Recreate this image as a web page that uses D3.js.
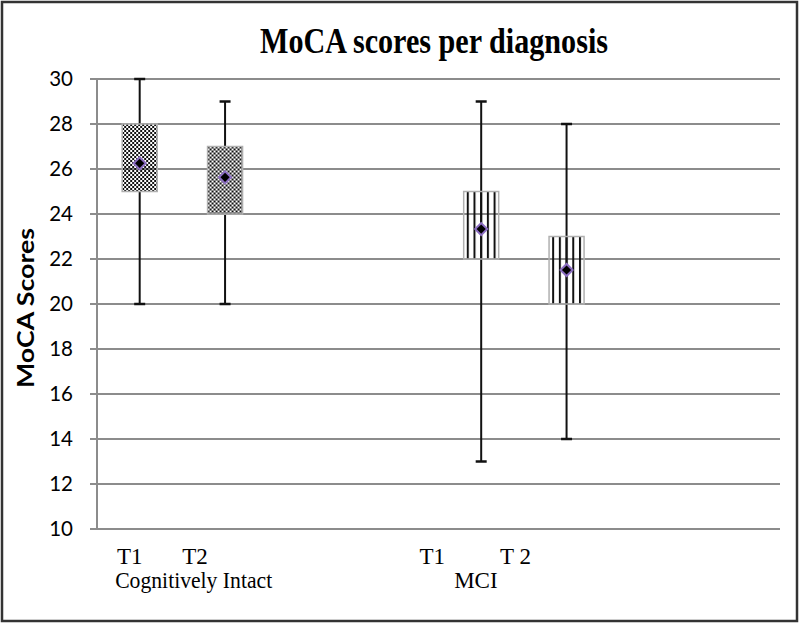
<!DOCTYPE html>
<html><head><meta charset="utf-8">
<script src="https://cdn.jsdelivr.net/npm/d3@7"></script>
<style>body{margin:0;background:#fff}svg{display:block}</style>
</head><body>
<script>
// ---- data ----
const slots = ["CI_T1","CI_T2","g1","g2","MCI_T1","MCI_T2","g3","g4"];
const boxCats = ["CI_T1","CI_T2","MCI_T1","MCI_T2"];
const groups = ["CI","CI","MCI","MCI"];
const whiskerLow  = [20, 20, 13, 14];
const boxLow      = [25, 24, 22, 20];
const boxHigh     = [28, 27, 25, 23];
const whiskerHigh = [30, 29, 29, 28];
const means       = [26.25, 25.63, 23.33, 21.51];
const yTicks = [10,12,14,16,18,20,22,24,26,28,30];
const timeLabels = ["T1","T2","T1","T 2"];
const groupLabels = ["Cognitively Intact","MCI"];
const title = "MoCA scores per diagnosis";
const yTitle = "MoCA Scores";

const W=800,H=624;
const svg=d3.select("body").append("svg").attr("width",W).attr("height",H);
const defs=svg.append("defs");

svg.append("rect").attr("x",2).attr("y",2).attr("width",795).attr("height",619)
  .attr("fill","#fff").attr("stroke","#333").attr("stroke-width",2.5);

const m={l:97,r:780,t:79,b:529};
const x=d3.scaleBand().domain(slots).range([m.l,m.r]).paddingInner(0.59).paddingOuter(0.295);
const y=d3.scaleLinear().domain([10,30]).range([m.b,m.t]);
const bw=x.bandwidth();

// patterns, aligned to each box
boxCats.forEach((c,i)=>{
  const p=defs.append("pattern").attr("id","pat"+i).attr("patternUnits","userSpaceOnUse")
    .attr("x",x(c)).attr("y",y(boxHigh[i]));
  if(groups[i]==="CI"){
    p.attr("width",4).attr("height",4);
    p.append("rect").attr("width",2).attr("height",2).attr("fill","#111");
    p.append("rect").attr("x",2).attr("y",2).attr("width",2).attr("height",2).attr("fill","#111");
  } else {
    p.attr("width",6.7).attr("height",10).attr("x",x(c)+bw/2-1-6.7*3);
    p.append("rect").attr("x",0).attr("width",2).attr("height",10).attr("fill","#111");
  }
});

// gridlines
svg.append("g").selectAll("line").data(yTicks).join("line")
  .attr("x1",m.l-7).attr("x2",m.r).attr("y1",d=>y(d)).attr("y2",d=>y(d))
  .attr("stroke","#8c8c8c").attr("stroke-width",2);
svg.append("line").attr("x1",m.l).attr("x2",m.l).attr("y1",m.t).attr("y2",m.b)
  .attr("stroke","#8c8c8c").attr("stroke-width",2);
// y tick labels
svg.append("g").selectAll("text").data(yTicks).join("text")
  .attr("x",73).attr("y",d=>y(d)).attr("dy","0.36em").attr("text-anchor","end")
  .attr("font-family","Lato, 'Open Sans', sans-serif").attr("font-size",20.5).attr("fill","#000")
  .text(d=>d);

const g=svg.append("g");
boxCats.forEach((c,i)=>{
  const cx=x(c)+bw/2;
  g.append("line").attr("x1",cx).attr("x2",cx).attr("y1",y(whiskerLow[i])).attr("y2",y(whiskerHigh[i]))
    .attr("stroke","#111").attr("stroke-width",2);
  [whiskerLow[i],whiskerHigh[i]].forEach(v=>{
    g.append("line").attr("x1",cx-5.5).attr("x2",cx+5.5).attr("y1",y(v)).attr("y2",y(v))
      .attr("stroke","#111").attr("stroke-width",2.5);
  });
  // mask whisker inside box (box interior shows gridlines but not the whisker)
  if(groups[i]==="CI"){
    g.append("rect").attr("x",x(c)).attr("y",y(boxHigh[i])).attr("width",bw)
      .attr("height",y(boxLow[i])-y(boxHigh[i])).attr("fill","#fff");
    g.append("line").attr("x1",x(c)).attr("x2",x(c)+bw)
      .attr("y1",y(Math.ceil(boxLow[i]/2)*2)).attr("y2",y(Math.ceil(boxLow[i]/2)*2))
      .attr("stroke","#8c8c8c").attr("stroke-width",2);
  }
  g.append("rect").attr("x",x(c)).attr("y",y(boxHigh[i])).attr("width",bw)
    .attr("height",y(boxLow[i])-y(boxHigh[i]))
    .attr("fill","url(#pat"+i+")")
    .attr("stroke","#b0b0b0").attr("stroke-width",1.5);
  g.append("path").attr("d",d3.symbol(d3.symbolSquare,72)())
    .attr("transform",`translate(${cx},${y(means[i])}) rotate(45)`)
    .attr("fill","#000").attr("stroke","#8a6cc0").attr("stroke-width",2);
});

// x labels
const tOff=[-10,-30,-49,-51];
const serif="'Liberation Serif','Times New Roman',serif";
svg.append("g").selectAll("text").data(timeLabels).join("text")
  .attr("x",(d,i)=>x(boxCats[i])+bw/2+tOff[i]).attr("y",564).attr("text-anchor","middle")
  .attr("font-family",serif).attr("font-size",23).attr("fill","#000")
  .text(d=>d);
svg.append("text").attr("x",x("CI_T1")-7).attr("y",588)
  .attr("font-family",serif).attr("font-size",23)
  .attr("textLength",157).attr("lengthAdjust","spacingAndGlyphs").text(groupLabels[0]);
svg.append("text").attr("x",(x("MCI_T1")+x("MCI_T2")+bw)/2-48).attr("y",588).attr("text-anchor","middle")
  .attr("font-family",serif).attr("font-size",23).text(groupLabels[1]);

// title
svg.append("text").attr("x",260).attr("y",53)
  .attr("font-family",serif).attr("font-weight","bold").attr("font-size",36)
  .attr("textLength",348).attr("lengthAdjust","spacingAndGlyphs").text(title);
// y title
svg.append("text").attr("transform","translate(34,308) rotate(-90)").attr("text-anchor","middle")
  .attr("font-family","Lato, 'Open Sans', sans-serif").attr("font-weight","bold").attr("font-size",22)
  .attr("textLength",160).attr("lengthAdjust","spacingAndGlyphs").text(yTitle);
</script>
</body></html>
